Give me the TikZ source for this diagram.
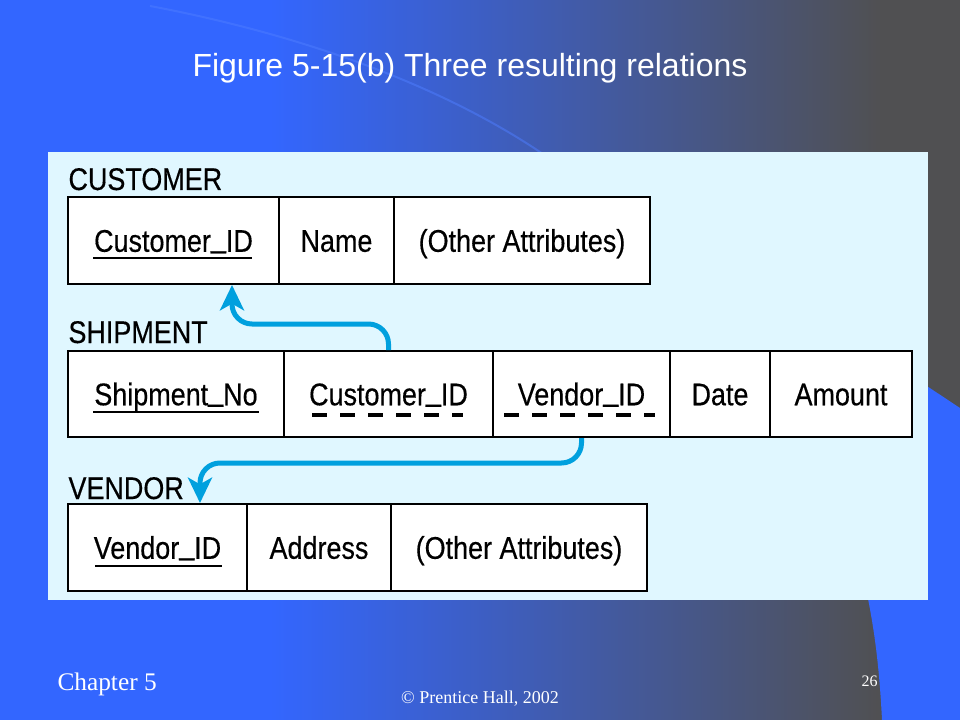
\documentclass[tikz,border=0pt]{standalone}
\usepackage{fontspec}
\setmainfont{Liberation Serif}
\newfontfamily\tabfont[FakeStretch=0.86,FakeBold=0.4]{Liberation Sans}
\newfontfamily\titlefont{Liberation Sans}
\usetikzlibrary{arrows.meta}
\newcommand{\usc}{\raisebox{0.15em}{\_}}

\definecolor{slideblue}{RGB}{51,102,255}
\definecolor{slidegray}{RGB}{80,80,82}
\definecolor{arcblue}{RGB}{78,125,255}
\definecolor{panelcyan}{RGB}{224,247,255}
\definecolor{fkblue}{RGB}{0,160,222}

\tikzset{every picture/.style={line width=0.75pt}}
\tikzset{
	cell/.style={draw=black, line width=1.5pt, fill=white, inner sep=0pt, minimum height=65.25pt,
		font=\tabfont\fontsize{23.5}{26}\selectfont, text height=16.9pt, text depth=0pt},
	tname/.style={anchor=base west, inner sep=0pt, font=\tabfont\fontsize{23.5}{26}\selectfont},
	pkline/.style={line width=1.5pt},
	fkline/.style={line width=3pt, dash pattern=on 11.25pt off 9.75pt},
	fkarrow/.style={fkblue, line width=3.75pt, rounded corners=15pt, -{Stealth[length=19pt,width=18pt,inset=5pt]}}
}

\begin{document}
\begin{tikzpicture}[x=0.75pt,y=0.75pt,yscale=-1,xscale=1]
		\useasboundingbox (0,0) rectangle (960,720);
		
		%Background
		\fill[slideblue] (0,0) rectangle (271,720);
		\shade[left color=slideblue, right color=slidegray] (270,0) rectangle (881,720);
		\fill[slidegray] (880,0) rectangle (960,720);
		\draw[arcblue, line width=1.5pt, opacity=0.5] (150,6) .. controls (330,40) and (470,100) .. (560,166) ;
		%Shape: corner
		\fill[slideblue] (880,355) -- (960,408) -- (960,720) -- (882,720) .. controls (879,660) and (873,620) .. (864,580) -- cycle ;
		%Shape: Panel
		\fill[panelcyan] (48,152) rectangle (928,600) ;
		
		%Title
		\node[anchor=base, inner sep=0pt, white, font=\titlefont\fontsize{24}{28}\selectfont] (title) at (470,77) {Figure 5-15(b) Three resulting relations};
		
		%CUSTOMER
		\node[tname] (custname) at (68,190) {CUSTOMER};
		\node[cell, minimum width=158.25pt] (custid) at (173.5,240.5) {Customer\usc ID};
		\node[cell, minimum width=86.25pt] (custnm) at (336.5,240.5) {Name};
		\node[cell, minimum width=192pt] (custoth) at (522,240.5) {(Other Attributes)};
		\draw[pkline] ([shift={(-80.5,17.5)}]custid.center) -- ([shift={(78.5,17.5)}]custid.center) ;
		
		%SHIPMENT
		\node[tname] (shipname) at (68,343) {SHIPMENT};
		\node[cell, minimum width=162pt, minimum height=64.5pt] (shipno) at (176,394) {Shipment\usc No};
		\node[cell, minimum width=156.75pt, minimum height=64.5pt] (shipcust) at (388.5,394) {Customer\usc ID};
		\node[cell, minimum width=132.75pt, minimum height=64.5pt] (shipvend) at (581.5,394) {Vendor\usc ID};
		\node[cell, minimum width=75pt, minimum height=64.5pt] (shipdate) at (720,394) {Date};
		\node[cell, minimum width=106.5pt, minimum height=64.5pt] (shipamt) at (841,394) {Amount};
		\draw[pkline] ([shift={(-83,18)}]shipno.center) -- ([shift={(83,18)}]shipno.center) ;
		\draw[fkline] ([shift={(-76.5,21)}]shipcust.center) -- ([shift={(74.5,21)}]shipcust.center) ;
		\draw[fkline] ([shift={(-77.5,21)}]shipvend.center) -- ([shift={(73.5,21)}]shipvend.center) ;
		
		%VENDOR
		\node[tname] (vendname) at (68,499) {VENDOR};
		\node[cell, minimum width=134.25pt] (vendid) at (157.5,547.5) {Vendor\usc ID};
		\node[cell, minimum width=108pt] (vendaddr) at (319,547.5) {Address};
		\node[cell, minimum width=192pt] (vendoth) at (519,547.5) {(Other Attributes)};
		\draw[pkline] ([shift={(-62.5,18.5)}]vendid.center) -- ([shift={(64.5,18.5)}]vendid.center) ;
		
		%Foreign keys
		\draw[fkarrow] (shipcust.north) -- ++(0,-26) -| ([shift={(58.5,0)}]custid.south) ;
		\draw[fkarrow] (shipvend.south) -- ++(0,25) -| ([shift={(42.5,0)}]vendid.north) ;
		
		%Footer
		\node[anchor=base west, inner sep=0pt, white, font=\fontsize{19}{22}\selectfont] (chapter) at (57,690) {Chapter 5};
		\node[anchor=base, inner sep=0pt, white, font=\fontsize{13.5}{15}\selectfont] (copy) at (480,703) {\textcopyright\ Prentice Hall, 2002};
		\node[anchor=base east, inner sep=0pt, white, font=\fontsize{12}{14}\selectfont] (page) at (878,686) {26};
		
	\end{tikzpicture}
\end{document}
